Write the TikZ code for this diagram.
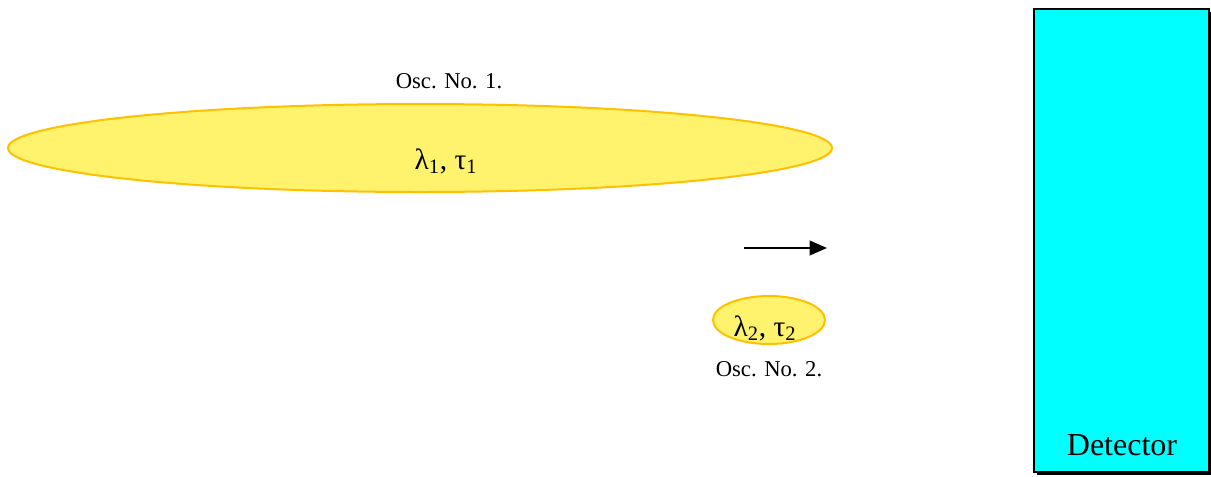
\documentclass[tikz,border=0pt]{standalone}
\usepackage{fontspec}
\setmainfont{Liberation Serif}
\usetikzlibrary{shapes.geometric,arrows.meta}
\definecolor{oscfill}{RGB}{255,243,110}
\definecolor{oscdraw}{RGB}{255,192,0}
\definecolor{detcyan}{RGB}{0,255,255}
\tikzset{
  osc/.style={ellipse, draw=oscdraw, line width=1.5pt, fill=oscfill, inner sep=0pt},
  lbl/.style={font=\fontsize{17}{19}\selectfont, inner sep=0pt, anchor=base},
  greek/.style={font=\fontsize{22}{24}\selectfont, inner sep=0pt, anchor=base},
}
\begin{document}
\begin{tikzpicture}[x=0.75pt,y=-0.75pt]
\useasboundingbox (0,0) rectangle (1211,476);
% oscillator 1
\node[osc, minimum width=824*0.75pt, minimum height=88*0.75pt] (o1) at (420,148) {};
\node[greek] (g1) at (446,169) {λ\textsubscript{1}, τ\textsubscript{1}};
\node[lbl] (l1) at (449,88) {Osc. No. 1.};
% oscillator 2
\node[osc, minimum width=112*0.75pt, minimum height=48*0.75pt] (o2) at (769,320) {};
\node[greek] (g2) at (765,336) {λ\textsubscript{2}, τ\textsubscript{2}};
\node[lbl] (l2) at (769,376) {Osc. No. 2.};
% arrow
\coordinate (a1) at (744,248);
\coordinate (a2) at (827,248);
\draw[line width=1.3pt, -{Triangle[length=13pt,width=11pt]}] (a1) -- (a2);
% detector
\fill[black] (1037,12) rectangle (1212,475);
\node[draw=black, line width=1.6pt, fill=detcyan, minimum width=175*0.75pt, minimum height=463*0.75pt, anchor=north west, inner sep=0pt] (det) at (1033,8) {};
\node[font=\fontsize{24}{28}\selectfont, inner sep=0pt, anchor=base] (dl) at (1122,455) {Detector};
\end{tikzpicture}
\end{document}
